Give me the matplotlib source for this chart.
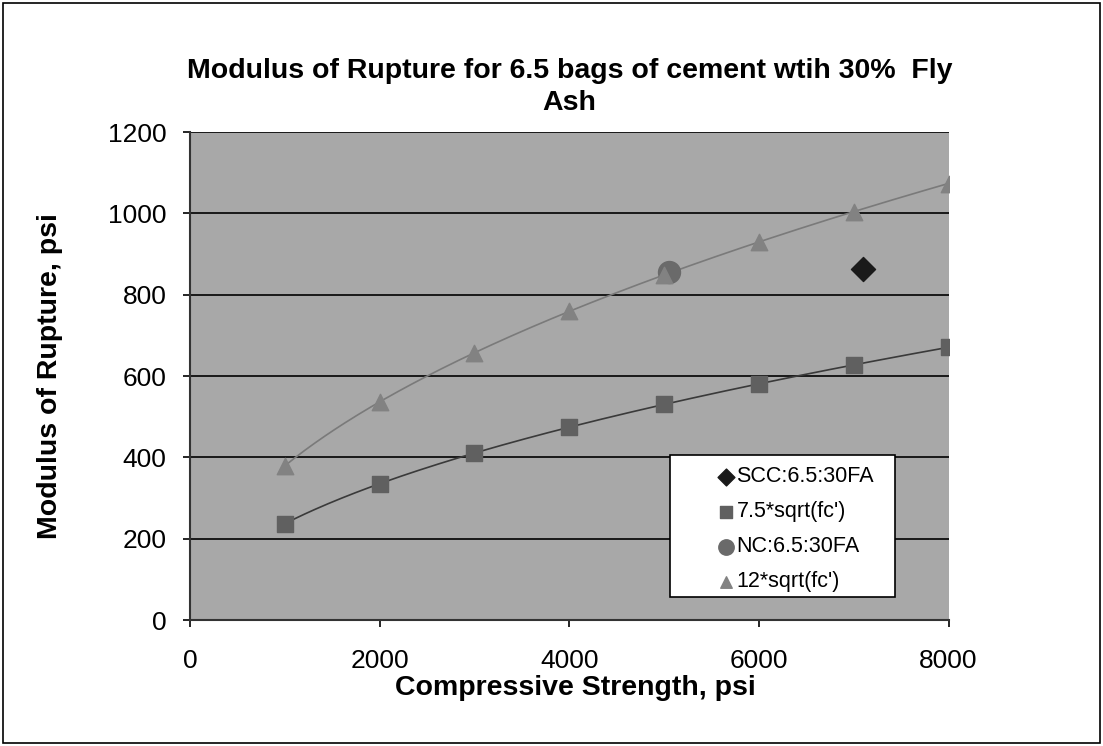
import matplotlib.pyplot as plt
from matplotlib.patches import Rectangle
import numpy as np

plt.rcParams['font.family'] = ['Liberation Sans', 'DejaVu Sans']

fc = [1000, 2000, 3000, 4000, 5000, 6000, 7000, 8000]
mor_75 = [237, 335, 411, 474, 530, 581, 627, 671]
mor_12 = [379, 537, 657, 759, 849, 930, 1004, 1073]
scc_x, scc_y = [7100], [862]
nc_x, nc_y = [5050], [855]


def power_trend(x, y):
    # power trendline y = a * x**b fitted in log space
    b, log_a = np.polyfit(np.log(x), np.log(y), 1)
    xs = np.linspace(min(x), max(x), 200)
    return xs, np.exp(log_a) * xs ** b


fig = plt.figure(figsize=(11.03, 7.46), dpi=100)
fig.patches.append(Rectangle((0.003, 0.004), 0.994, 0.992, transform=fig.transFigure,
                             fill=False, edgecolor='black', linewidth=1.2))
ax = fig.add_axes([0.1723, 0.1689, 0.6877, 0.6541])
ax.set_facecolor('#a8a8a8')

for yv in range(200, 1201, 200):
    ax.axhline(yv, color='black', linewidth=1.2, zorder=1)

xs, ys = power_trend(fc, mor_12)
ax.plot(xs, ys, color='#7a7a7a', linewidth=1.2, zorder=2)
xs, ys = power_trend(fc, mor_75)
ax.plot(xs, ys, color='#3a3a3a', linewidth=1.2, zorder=2)

ax.scatter(scc_x, scc_y, marker='D', s=150, color='#1a1a1a', zorder=3, label='SCC:6.5:30FA')
ax.scatter(fc, mor_75, marker='s', s=130, color='#606060', zorder=3, label="7.5*sqrt(fc')")
ax.scatter(nc_x, nc_y, marker='o', s=250, color='#6a6a6a', zorder=3, label='NC:6.5:30FA')
ax.scatter(fc, mor_12, marker='^', s=140, color='#828282', zorder=3, label="12*sqrt(fc')")

ax.set_xlim(0, 8000)
ax.set_ylim(0, 1200)
ax.set_xticks(range(0, 8001, 2000))
ax.set_yticks(range(0, 1201, 200))
ax.tick_params(labelsize=19, length=5, width=1.2, direction='out')
ax.tick_params(axis='y', pad=12)
ax.tick_params(axis='x', pad=16)

for side in ('top', 'right'):
    ax.spines[side].set_visible(False)
for side in ('left', 'bottom'):
    ax.spines[side].set_linewidth(1.5)
    ax.spines[side].set_color('#333333')

ax.set_xlabel('Compressive Strength, psi', fontsize=20.5, fontweight='bold')
ax.xaxis.set_label_coords(0.508, -0.112)
ax.set_ylabel('Modulus of Rupture, psi', fontsize=20.5, fontweight='bold', labelpad=32)
ax.set_title('Modulus of Rupture for 6.5 bags of cement wtih 30%  Fly\nAsh',
             fontsize=20.5, fontweight='bold', linespacing=1.3, pad=16)

# legend box drawn separately so the entries sit toward its right side
ax.add_patch(Rectangle((0.633, 0.047), 0.297, 0.291, transform=ax.transAxes,
                       facecolor='white', edgecolor='black', linewidth=1.2, zorder=4))
leg = ax.legend(loc='upper left', bbox_to_anchor=(0.692, 0.315), fontsize=15.5,
                frameon=False, handletextpad=0.0, handlelength=1.0,
                labelspacing=0.65, borderpad=0, markerscale=0.7, borderaxespad=0)
leg.set_zorder(5)

fig.savefig('out.png', dpi=100)
